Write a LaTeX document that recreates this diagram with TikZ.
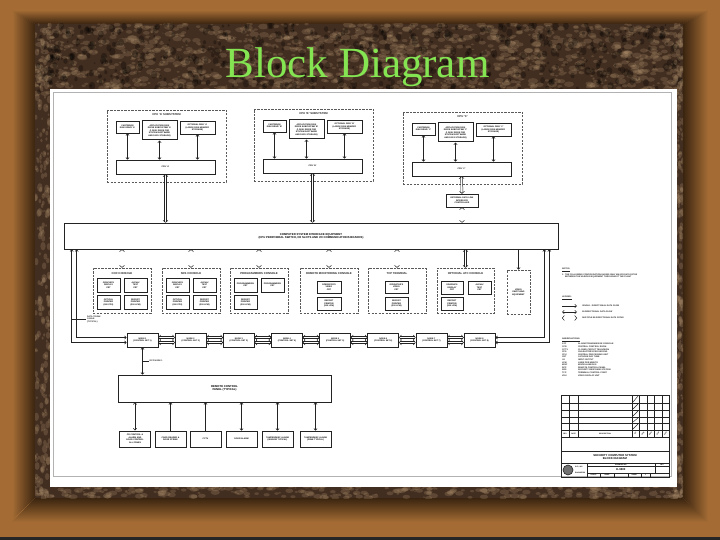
\documentclass[tikz,border=0pt]{standalone}
\usepackage{fontspec}
\setsansfont{Liberation Sans}
\newfontfamily\slidefont{Liberation Serif}
\usepackage{tikz}
\usetikzlibrary{arrows.meta,positioning,calc}
\definecolor{frm}{RGB}{164,108,52}
\definecolor{frmdk}{RGB}{58,36,16}
\definecolor{marb}{RGB}{66,46,32}
\definecolor{marblt}{RGB}{176,146,110}
\definecolor{ink}{RGB}{35,35,35}
\definecolor{ttl}{RGB}{132,228,82}
\newcommand\dwg{\fontsize{2.1}{2.5}\selectfont\sffamily\bfseries}
\newcommand\dwgh{\fontsize{2.8}{3.3}\selectfont\sffamily\bfseries}
\newcommand\dwgs{\fontsize{1.7}{2}\selectfont\sffamily\bfseries}
% box from its two corners: style, name, x1, y1, x2, y2, text
\newcommand\blkat[7]{\node[#1,minimum width={((#5)-(#3))*1pt},minimum height={((#6)-(#4))*1pt}] (#2) at ({((#3)+(#5))/2},{((#4)+(#6))/2}) {#7};}
\tikzset{
  blk/.style={draw=ink,line width=0.6pt,fill=white,inner sep=0pt,align=center,font=\dwg},
  blkh/.style={blk,font=\dwgh},
  hvy/.style={blk,line width=1pt},
  grp/.style={draw=ink!75,line width=0.55pt,dash pattern=on 2.2pt off 1.3pt,inner sep=0pt},
  grpt/.style={grp,font=\dwg,align=center},
  grptl/.style={font=\dwgh,inner sep=0pt,text=ink},
  txt/.style={font=\dwg,inner sep=0pt,text=ink,anchor=west},
  sig/.style={draw=ink,line width=0.55pt,{Straight Barb[length=1.8pt,width=3.2pt]}-{Straight Barb[length=1.8pt,width=3.2pt]}},
  sigone/.style={draw=ink,line width=0.55pt,-{Straight Barb[length=1.8pt,width=3.2pt]}},
  bus/.style={draw=ink,line width=0.5pt,double=white,double distance=1.4pt,{Straight Barb[length=2pt,width=5pt]}-{Straight Barb[length=2pt,width=5pt]}},
  rule/.style={draw=ink,line width=0.45pt},
}

\begin{document}
\begin{tikzpicture}[x=1pt,y=-1pt,>=Stealth]
\useasboundingbox (0,0) rectangle (720,540);
% frame and marble
\fill[frm] (0,0) rectangle (720,540);
\shade[top color=frm,bottom color=frmdk] (12,10) -- (708,10) -- (683,24) -- (35,24) -- cycle;
\shade[left color=frm,right color=frmdk] (12,10) -- (35,24) -- (35,498) -- (12,520) -- cycle;
\shade[top color=frmdk,bottom color=frm] (35,498) -- (683,498) -- (708,522) -- (12,522) -- cycle;
\shade[left color=frmdk,right color=frm] (683,24) -- (708,10) -- (708,522) -- (683,498) -- cycle;
\fill[black!85] (0,537) rectangle (720,540);
\fill[marb] (35,24) rectangle (683,498);
\begin{scope}
  \clip (35,24) rectangle (683,498);
  \pgfmathsetseed{11}
  % top band
  \foreach \k in {1,...,1400} {
    \pgfmathsetmacro\xx{35+648*rnd}
    \pgfmathsetmacro\yy{24+70*rnd}
    \pgfmathsetmacro\rr{0.7+2.2*rnd}
    \fill[marblt,opacity=0.24] (\xx,\yy) ellipse [x radius=1.8*\rr, y radius=\rr];
  }
  \foreach \k in {1,...,600} {
    \pgfmathsetmacro\xx{35+648*rnd}
    \pgfmathsetmacro\yy{24+70*rnd}
    \pgfmathsetmacro\rr{0.8+2.5*rnd}
    \fill[black,opacity=0.3] (\xx,\yy) ellipse [x radius=\rr, y radius=1.3*\rr];
  }
  % bottom band
  \foreach \k in {1,...,350} {
    \pgfmathsetmacro\xx{35+648*rnd}
    \pgfmathsetmacro\yy{484+14*rnd}
    \pgfmathsetmacro\rr{0.7+2*rnd}
    \fill[marblt,opacity=0.26] (\xx,\yy) ellipse [x radius=1.8*\rr, y radius=\rr];
  }
  % side bands
  \foreach \k in {1,...,260} {
    \pgfmathsetmacro\xx{35+16*rnd}
    \pgfmathsetmacro\yy{24+474*rnd}
    \pgfmathsetmacro\rr{0.7+2*rnd}
    \fill[marblt,opacity=0.26] (\xx,\yy) ellipse [x radius=\rr, y radius=1.6*\rr];
    \pgfmathsetmacro\xx{675+8*rnd}
    \fill[marblt,opacity=0.26] (\xx,\yy) ellipse [x radius=\rr, y radius=1.6*\rr];
  }
\end{scope}
\node[font=\slidefont\fontsize{43}{43}\selectfont,text=ttl,anchor=base,inner sep=0pt] (title) at (357.5,78) {Block Diagram};
% drawing sheet
\fill[white] (50,89) rectangle (677,487);
\draw[gray!60,line width=0.5pt] (53,92) rectangle (671,476);

% CPU subsystems
\foreach \g/\L/\T/\tl in {A/107/110/{CPU 'A' SUBSYSTEM},B/254/109/{CPU 'B' SUBSYSTEM},C/403/112/{CPU 'C'}} {
  \blkat{grp}{grp\g}{\L}{\T}{\L+119}{\T+72}{}
  \node[grptl] (tl\g) at ({\L+59.5},{\T+4.5}) {\tl};
  \blkat{blk}{cd\g}{\L+9}{\T+11}{\L+32}{\T+23}{CARTRIDGE\\DISK DRIVE '\g'}
  \blkat{hvy}{ad\g}{\L+35}{\T+11}{\L+70}{\T+30}{APPLICATION DISK\\DRIVE SUBSYSTEM '\g'\\(1 DISK DRIVE FOR\\SYSTEM SOFTWARE\\AND DATA STORAGE)}
  \blkat{blk}{od\g}{\L+73}{\T+11}{\L+108}{\T+24}{OPTIONAL DISK '\g'\\(LARGE DISK MEMORY\\STORAGE)}
  \blkat{blk}{cpu\g}{\L+9}{\T+50}{\L+108}{\T+64}{CPU '\g'}
  \draw[sig] (cd\g.south) -- (cd\g.south |- cpu\g.north);
  \draw[sig] (ad\g.south) -- (ad\g.south |- cpu\g.north);
  \draw[sig] (od\g.south) -- (od\g.south |- cpu\g.north);
}
\blkat{blk}{edl}{446}{194}{478}{207}{EXTERNAL DATA LINK\\INTERFACE\\CONTROLLER}
\blkat{blkh}{ifc}{64}{223}{558}{249}{COMPUTER SYSTEM INTERFACE EQUIPMENT\\(CPU PERIPHERAL SWITCH, I/O SLOTS AND I/O COMMUNICATIONS BOARDS)}
\draw[bus] (cpuA.south) -- (cpuA.south |- ifc.north);
\draw[bus] (cpuB.south) -- (cpuB.south |- ifc.north);
\draw[bus] (cpuC.south) -- (edl.north);
\draw[bus] (edl.south) -- (edl.south |- ifc.north);

% consoles
\blkat{grp}{ccr}{93}{268}{151}{313}{}
\node[grptl] (ccrt) at (122,273.5) {CCR CONSOLE};
\blkat{blk}{ccr1}{97}{278}{120}{292}{GRAPHICS\\DISPLAY\\CRT}
\blkat{blk}{ccr2}{124}{278}{147}{292}{ALPHA/\\TEXT\\CRT}
\blkat{blk}{ccr3}{97}{295}{120}{309}{OPTICAL\\PRINTER\\(240 CPS)}
\blkat{blk}{ccr4}{124}{295}{147}{309}{REPORT\\PRINTER\\(300 LPM)}
\blkat{grp}{srs}{162}{268}{220}{313}{}
\node[grptl] (srst) at (191,273.5) {SRS CONSOLE};
\blkat{blk}{srs1}{166}{278}{189}{292}{GRAPHICS\\DISPLAY\\CRT}
\blkat{blk}{srs2}{193}{278}{216}{292}{ALPHA/\\TEXT\\CRT}
\blkat{blk}{srs3}{166}{295}{189}{309}{OPTICAL\\PRINTER\\(240 CPS)}
\blkat{blk}{srs4}{193}{295}{216}{309}{REPORT\\PRINTER\\(300 LPM)}
\blkat{grp}{prg}{230}{268}{288}{313}{}
\node[grptl] (prgt) at (259,273.5) {PROGRAMMERS CONSOLE};
\blkat{hvy}{prg1}{234}{278}{257}{292}{PROGRAMMERS\\CRT}
\blkat{blk}{prg2}{261}{278}{284}{292}{PROGRAMMERS\\CRT}
\blkat{hvy}{prg3}{234}{295}{257}{309}{REPORT\\PRINTER\\(300 LPM)}
\blkat{grp}{rmc}{300}{268}{358}{313}{}
\node[grptl] (rmct) at (329,273.5) {REMOTE MONITORING CONSOLE};
\blkat{blk}{rmc1}{317}{281}{341}{293}{OPERATOR'S\\VIDEO\\CRT}
\blkat{blk}{rmc2}{317}{297}{341}{310}{REPORT\\PRINTER\\(300 LPM)}
\blkat{grp}{tcp}{368}{268}{426}{313}{}
\node[grptl] (tcpt) at (397,273.5) {TCP TERMINAL};
\blkat{blk}{tcp1}{385}{281}{408}{293}{OPERATOR'S\\VIDEO\\CRT}
\blkat{blk}{tcp2}{385}{297}{408}{310}{REPORT\\PRINTER\\(300 LPM)}
\blkat{grp}{atc}{437}{268}{494}{313}{}
\node[grptl] (atct) at (465.5,273.5) {OPTIONAL ATC CONSOLE};
\blkat{blk}{atc1}{441}{281}{463}{294}{GRAPHICS\\DISPLAY\\CRT}
\blkat{blk}{atc2}{468}{281}{491}{294}{ALPHA/\\TEXT\\CRT}
\blkat{blk}{atc3}{441}{297}{463}{310}{REPORT\\PRINTER\\(300 LPM)}
\blkat{grpt}{vse}{507}{270}{530}{314}{VIDEO\\SWITCHING\\EQUIPMENT}
\foreach \c in {ccr,srs,prg,rmc,tcp,atc}
  \draw[bus] (ifc.south -| \c.north) -- (\c.north);
\draw[sigone] (ifc.south -| vse.north) -- (vse.north);

% data trunk nodes
\foreach \i in {1,...,8} {
  \blkat{blk}{n\i}{142.5+48.15*(\i-1)-15.5}{333}{142.5+48.15*(\i-1)+15.5}{347}{NODE \i\\(CONTROL SET \i)}
}
\foreach \i in {1,...,7} {
  \pgfmathtruncatemacro\j{\i+1}
  \draw[bus] ([yshift=2.5pt]n\i.east) -- ([yshift=2.5pt]n\j.west);
  \draw[bus] ([yshift=-2.5pt]n\i.east) -- ([yshift=-2.5pt]n\j.west);
}
\draw[sig] ([xshift=8pt]ifc.south west) |- ([yshift=-2.5pt]n1.west);
\draw[sig] ([xshift=13pt]ifc.south west) |- ([yshift=2.5pt]n1.west);
\draw[sig] ([xshift=-9pt]ifc.south east) |- ([yshift=-2.5pt]n8.east);
\draw[sig] ([xshift=-14pt]ifc.south east) |- ([yshift=2.5pt]n8.east);
\coordinate (dtk) at (72,319);
\draw[rule] (dtk) -- ++(14,0) node[txt,right,align=left,inner sep=1pt] (dtkl) {DATA TRUNK\\CABLE\\(TYPICAL)};

% remote control panel
\blkat{blkh}{rcp}{118}{375}{331}{402}{REMOTE CONTROL\\PANEL (TYPICAL)}
\draw[sig] (n1.south) -- (n1.south |- rcp.north);
\coordinate (rcn) at (142.5,361);
\draw[rule] (rcn) -- ++(6,0) node[txt,right,inner sep=1pt] (rcnl) {RCP NODE 1};
\foreach \i/\cx/\st/\tx in {1/135/hvy/{CR CONTROL \&\\ALARM AND\\DOOR CONTROL\\ALL ZONES},
    2/170.5/blk/{CARD READER \&\\DOOR STRIKE},3/205.5/blk/{CCTV},4/241.5/blk/{DOOR ALARM},
    5/277.5/blk/{TAMPER/MISC ALARM\\(SENSOR TYPICAL)},6/315.5/blk/{TAMPER/MISC ALARM\\(ZONE TYPICAL)}} {
  \blkat{\st}{b\i}{\cx-15.5}{431}{\cx+15.5}{447}{\tx}
}
\draw[sig] (b1.north) -- (b1.north |- rcp.south);
\draw[sigone] (b2.north) -- (b2.north |- rcp.south);
\draw[sigone] (b3.north) -- (b3.north |- rcp.south);
\draw[sig] (b4.north) -- (b4.north |- rcp.south);
\draw[sig] (b5.north) -- (b5.north |- rcp.south);
\draw[sig] (b6.north) -- (b6.north |- rcp.south);

% notes, legend, abbreviations
\node[txt] (nts) at (562,270) {\underline{NOTES:}};
\node[txt,anchor=north west,align=left] (nt1) at (562,273.5) {1.\ \ THE FOLLOWING CONFIGURATION SHOWS ONLY MAJOR DATA PATHS\\\phantom{1.\ \ }BETWEEN THE VARIOUS EQUIPMENT THROUGHOUT THE PLANT};
\node[txt] (lgd) at (562,298) {\underline{LEGEND:}};
\coordinate (lg1) at (562,306);
\coordinate (lg2) at (562,312);
\coordinate (lg3) at (562,318);
\draw[sigone] (lg1) -- ++(15,0) node[txt,right=5pt] (lg1t) {SINGLE - DIRECTIONAL DATA FLOW};
\draw[sig] (lg2) -- ++(15,0) node[txt,right=5pt] (lg2t) {BI-DIRECTIONAL DATA FLOW};
\draw[bus] (lg3) -- ++(15,0) node[txt,right=5pt] (lg3t) {MULTIPLE BI-DIRECTIONAL DATA PATHS};
\node[txt] (abv) at (562,340) {\underline{ABBREVIATIONS:}};
\foreach \ab/\ds [count=\n] in {ATC/ALARM TRANSMISSION CONSOLE,CCR/CENTRAL CONTROL ROOM,
    CCTV/CLOSED CIRCUIT TELEVISION,CPS/CHARACTERS PER SECOND,CPU/CENTRAL PROCESSING UNIT,
    CRT/CATHODE RAY TUBE,I-O/INPUT-OUTPUT,LPM/LINES PER MINUTE,MISC/MISCELLANEOUS,
    RCP/REMOTE CONTROL PANEL,SRS/SECURITY RESPONSE STATION,TCP/TERMINAL CONTROL POINT,
    VDU/VIDEO DISPLAY UNIT} {
  \node[txt] (ab\n) at (562,{341.5+2.6*\n}) {\ab};
  \node[txt] (ds\n) at (578,{341.5+2.6*\n}) {\ds};
}

% revision table and title block
\draw[rule] (561,395) rectangle (669,477);
\foreach \yy in {403,410,417,423,430,437,451,463}
  \draw[rule] (561,\yy) -- (669,\yy);
\foreach \xx in {569,578,632,639,647,654,662}
  \draw[rule] (\xx,395) -- (\xx,437);
\foreach \ya/\yb in {395/403,403/410,410/417,417/423,423/430}
  \draw[rule] (633,\yb-1) -- (638,\ya+1);
\node[font=\dwgs] (rv) at (565,433.5) {REV};
\node[font=\dwgs] (dt) at (573.5,433.5) {DATE};
\node[font=\dwgs] (dsc) at (605,433.5) {DESCRIPTION};
\foreach \xx/\bt in {635.5/BY,643/CHK,650.5/ENG,658/APP,665.5/APP}
  \node[font=\dwgs,rotate=45,inner sep=0] (ck\bt\xx) at (\xx,433.5) {\bt};
\node[font=\dwgh,align=center] (ttb) at (615,457) {SECURITY COMPUTER SYSTEM\\BLOCK DIAGRAM};
\draw[rule] (587,463) -- (587,477);
\draw[rule] (587,466) -- (669,466);
\draw[rule] (587,473) -- (669,473);
\draw[rule] (655,463) -- (655,473);
\foreach \xx in {600,614,628,641,650}
  \draw[rule] (\xx,473) -- (\xx,477);
\node[font=\dwgs] (dno) at (621,464.5) {DRAWING NO.};
\node[font=\dwgs] (drv) at (662,464.5) {REV};
\node[font=\dwgh] (dnum) at (621,469.5) {E-9600};
\node[font=\dwgs] (scl) at (593.5,475) {SCALE};
\node[font=\dwgs] (scn) at (607,475) {NONE};
\node[font=\dwgs] (sht) at (634.5,475) {SHEET};
\node[font=\dwgs] (sh1) at (645.5,475) {1};
\node[circle,draw=ink,fill=ink!65,line width=0.6pt,minimum size=10pt,inner sep=0] (logo) at (568,470) {};
\node[font=\dwgs,anchor=west,inner sep=0] (co1) at (575,467.5) {SYS, INC.};
\node[font=\dwgs,anchor=west,inner sep=0] (co2) at (575,472.5) {ENGINEERS};
\end{tikzpicture}
\end{document}
